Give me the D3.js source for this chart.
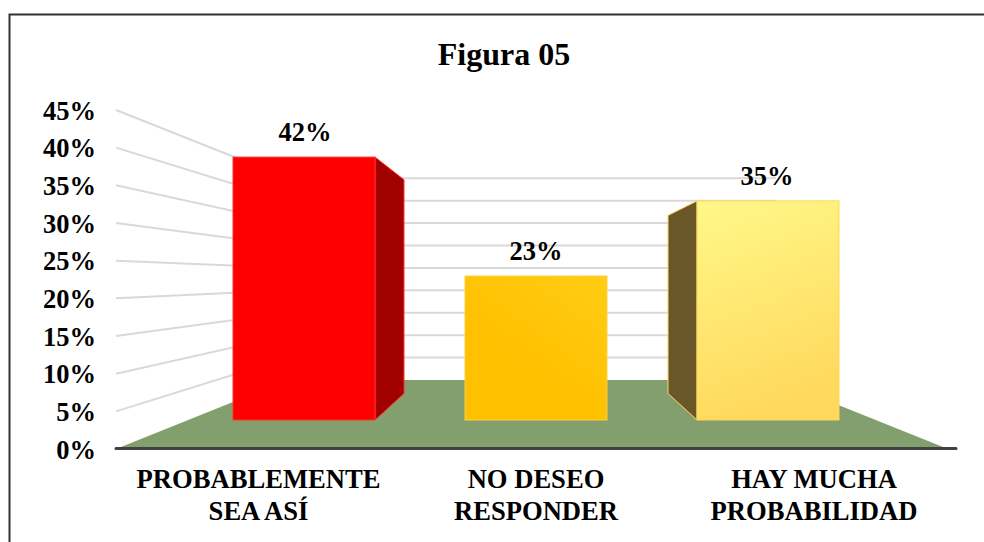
<!DOCTYPE html>
<html lang="en">
<meta charset="utf-8">
<style>
body { margin: 0; background: #fff; }
svg { display: block; }
text {
  font-family: "Liberation Serif", serif;
  font-weight: bold;
  fill: #000;
}
</style>
<body>
  <script src="https://d3js.org/d3.v7.min.js"></script>
  <div id="chart"></div>
<script>
// chart data
var titleText = "Figura 05";
var categories = [["PROBABLEMENTE", "SEA ASÍ"], ["NO DESEO", "RESPONDER"], ["HAY MUCHA", "PROBABILIDAD"]];
var values = [42, 23, 35];
var valueLabels = ["42%", "23%", "35%"];
var ticks = [0, 5, 10, 15, 20, 25, 30, 35, 40, 45];

var width = 984, height = 542;

var svg = d3.select("#chart").append("svg")
    .attr("width", width)
    .attr("height", height);

// the fake 3D box uses one value scale per depth: side wall edge, bar front, bar back, back wall
var yEdge = d3.scaleLinear().domain([0, 45]).range([449, 110]);
var yFront = d3.scaleLinear().domain([0, 45]).range([420, 138.3]);
var yDepth = d3.scaleLinear().domain([0, 45]).range([393.5, 164.5]);
var yWall = d3.scaleLinear().domain([0, 45]).range([380, 178.3]);

var x = d3.scaleBand()
    .domain(d3.range(values.length))
    .range([188, 884])
    .paddingInner(0.388)
    .paddingOuter(0.194);

var edgeLeft = 116, edgeRight = 948, wallLeft = 288, wallRight = 776;
var sideDepth = 29;

// gradients
var defs = svg.append("defs");
function gradient(id, x1, y1, x2, y2, from, to) {
  var g = defs.append("linearGradient").attr("id", id)
      .attr("x1", x1).attr("y1", y1).attr("x2", x2).attr("y2", y2);
  g.append("stop").attr("offset", "0%").attr("stop-color", from);
  g.append("stop").attr("offset", "100%").attr("stop-color", to);
}
gradient("bar0", 0, 0, 1, 1, "#ff0000", "#fd0000");
gradient("bar1", 1, 0, 0.5, 0.7, "#ffcd14", "#ffc000");
gradient("bar2", 0, 0, 0.25, 1, "#fff888", "#ffd95e");

var frontColors = ["url(#bar0)", "url(#bar1)", "url(#bar2)"];
var strokeColors = ["#ff3030", "#ffd040", "#ffd65c"];
var sideColors = ["#a00000", "none", "#69572a"];

// frame, the picture is cut off on the right and at the bottom
svg.append("path")
    .attr("d", d3.line()([[width, 14.5], [9.5, 14.5], [9.5, height]]))
    .attr("fill", "none")
    .attr("stroke", "#333")
    .attr("stroke-width", 2);

// side wall and back wall gridlines
var grid = ticks.filter(function(d) { return d > 0; });
svg.append("g").selectAll("path")
    .data(grid)
  .enter().append("path")
    .attr("d", function(d) {
      return d3.line()([[edgeLeft, yEdge(d)], [wallLeft, yWall(d)], [wallRight, yWall(d)]]);
    })
    .attr("fill", "none")
    .attr("stroke", "#d9d9d9")
    .attr("stroke-width", 2);

// floor
svg.append("path")
    .attr("d", d3.line()([
      [edgeLeft, yEdge(0)], [wallLeft, yWall(0)], [wallRight, yWall(0)], [edgeRight, yEdge(0)]
    ]) + "Z")
    .attr("fill", "#829f6d");

// axis line
svg.append("line")
    .attr("x1", edgeLeft).attr("x2", edgeRight + 8)
    .attr("y1", yEdge(0) - 0.5).attr("y2", yEdge(0) - 0.5)
    .attr("stroke", "#404040")
    .attr("stroke-width", 3)
    .attr("stroke-linecap", "round");

// bars: side face first, the first bar shows it on the right, the last one on the left
var bar = svg.append("g").selectAll("g")
    .data(values)
  .enter().append("g");

bar.filter(function(d, i) { return i !== 1; }).append("path")
    .attr("d", function(d) {
      var idx = values.indexOf(d);
      var front = idx === 0 ? x(idx) + x.bandwidth() : x(idx);
      var back = idx === 0 ? front + sideDepth : front - sideDepth;
      return d3.line()([
        [front, yFront(d)], [back, yDepth(d)], [back, yDepth(0)], [front, yFront(0)]
      ]) + "Z";
    })
    .attr("fill", function(d) { return sideColors[values.indexOf(d)]; })
    .attr("stroke", function(d) { return strokeColors[values.indexOf(d)]; })
    .attr("stroke-width", 1);

bar.append("rect")
    .attr("x", function(d, i) { return x(i); })
    .attr("y", function(d) { return yFront(d); })
    .attr("width", x.bandwidth())
    .attr("height", function(d) { return yFront(0) - yFront(d); })
    .attr("fill", function(d, i) { return frontColors[i]; })
    .attr("stroke", function(d, i) { return strokeColors[i]; })
    .attr("stroke-width", 1);

// value labels
svg.append("g").selectAll("text")
    .data(values)
  .enter().append("text")
    .attr("x", function(d, i) { return x(i) + x.bandwidth() / 2 + [1, 0, -1][i]; })
    .attr("y", function(d) { return yFront(d) - 16; })
    .attr("text-anchor", "middle")
    .style("font-size", "26.5px")
    .text(function(d, i) { return valueLabels[i]; });

// tick labels
svg.append("g").selectAll("text")
    .data(ticks)
  .enter().append("text")
    .attr("x", 96)
    .attr("y", function(d) { return yEdge(d) + 9.5; })
    .attr("text-anchor", "end")
    .style("font-size", "26.5px")
    .text(function(d) { return d + "%"; });

// category labels
var cat = svg.append("g").selectAll("text")
    .data(categories)
  .enter().append("text")
    .attr("text-anchor", "middle")
    .style("font-size", "26.6px");

cat.selectAll("tspan")
    .data(function(d, i) { return d.map(function(s) { return {s: s, i: i}; }); })
  .enter().append("tspan")
    .attr("x", function(d) { return x(d.i) + x.bandwidth() / 2 + [-45.5, 0, 46][d.i]; })
    .attr("y", function(d, j) { return 488 + j * 32; })
    .text(function(d) { return d.s; });

// title
svg.append("text")
    .attr("x", 504)
    .attr("y", 65)
    .attr("text-anchor", "middle")
    .style("font-size", "32px")
    .text(titleText);
</script>
